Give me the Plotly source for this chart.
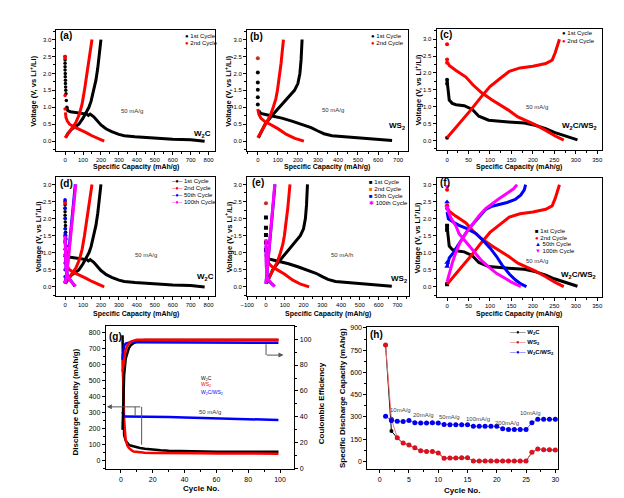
import plotly.graph_objects as go

W, H = 624, 498
FONT = "Liberation Sans, Arial, sans-serif"
BLACK, RED, BLUE, MAG = "#000000", "#ff0000", "#0000ff", "#ff00ff"

# ---------------- DATA ----------------
# W2C, 50 mA/g (panels a, d)
w2c_c1_dot_x = [0, 0, 0, 0, 0, 1, 1, 2, 2, 3, 4, 5, 7, 10]
w2c_c1_dot_y = [2.5, 2.4, 2.3, 2.2, 2.1, 2.0, 1.9, 1.8, 1.7, 1.6, 1.5, 1.4, 1.2, 1.0]
w2c_c1_dis_x = [10, 15, 30, 60, 90, 120, 130, 140, 160, 180, 200, 230, 260, 300, 330, 390, 500, 600, 700, 778]
w2c_c1_dis_y = [1.0, 0.9, 0.87, 0.85, 0.83, 0.8, 0.76, 0.8, 0.72, 0.6, 0.48, 0.36, 0.28, 0.2, 0.16, 0.13, 0.09, 0.06, 0.04, 0.0]
w2c_c1_chg_x = [5, 15, 36, 60, 77, 100, 120, 133, 145, 160, 172, 182, 190, 196, 200]
w2c_c1_chg_y = [0.12, 0.22, 0.35, 0.45, 0.5, 0.68, 0.85, 1.0, 1.18, 1.5, 1.8, 2.15, 2.5, 2.8, 3.0]
w2c_c2_dot_x = [0, 0, 0, 0]
w2c_c2_dot_y = [2.5, 2.45, 1.35, 0.95]
w2c_c2_dis_x = [2, 5, 12, 25, 50, 80, 115, 150, 185, 218]
w2c_c2_dis_y = [0.85, 0.7, 0.6, 0.5, 0.42, 0.35, 0.26, 0.16, 0.07, 0.0]
w2c_c2_chg_x = [0, 20, 40, 60, 80, 95, 108, 120, 132, 143, 150]
w2c_c2_chg_y = [0.1, 0.25, 0.38, 0.55, 0.8, 1.1, 1.5, 1.9, 2.3, 2.7, 3.0]
w2c_c50_dis_x = [0, 2, 6, 15, 35, 55]
w2c_c50_dis_y = [1.6, 1.0, 0.5, 0.3, 0.15, 0.02]
w2c_c50_chg_x = [0, 10, 20, 30, 40, 50, 57]
w2c_c50_chg_y = [0.1, 0.45, 1.0, 1.5, 2.0, 2.5, 3.0]
w2c_c100_dot_y = [2.55, 2.3, 2.0, 1.7, 1.5, 1.3, 1.1, 0.9, 0.7, 0.5, 0.3, 0.15]
w2c_c100_dot_x = [0, 0, 0, 0, 0, 0, 0, 0, 0, 0, 0, 0]
w2c_c100_dis_x = [0, 3, 5, 15, 35, 60]
w2c_c100_dis_y = [1.5, 1.0, 0.5, 0.3, 0.15, 0.02]
w2c_c100_chg_x = [0, 10, 20, 30, 40, 50, 60]
w2c_c100_chg_y = [0.1, 0.4, 0.9, 1.4, 1.9, 2.4, 3.0]

# WS2, 50 mA/g (panels b, e)
ws2_c1_dot_x = [0, 0, 0, 0, 0]
ws2_c1_dot_y = [2.03, 1.73, 1.52, 1.3, 1.08]
ws2_c1_dis_x = [5, 15, 60, 120, 170, 220, 266, 300, 330, 370, 430, 500, 600, 670]
ws2_c1_dis_y = [0.9, 0.82, 0.76, 0.68, 0.59, 0.5, 0.4, 0.3, 0.22, 0.16, 0.13, 0.1, 0.06, 0.02]
ws2_c1_chg_x = [3, 15, 36, 70, 109, 145, 183, 200, 210, 216, 221]
ws2_c1_chg_y = [0.1, 0.25, 0.5, 0.75, 1.0, 1.25, 1.5, 1.7, 2.0, 2.4, 3.0]
ws2_c2_dot_x = [0]
ws2_c2_dot_y = [2.45]
ws2_c2_dis_x = [0, 5, 15, 35, 61, 100, 143, 185, 230]
ws2_c2_dis_y = [0.95, 0.8, 0.68, 0.58, 0.5, 0.37, 0.2, 0.08, 0.0]
ws2_c2_chg_x = [0, 15, 41, 62, 77, 90, 98, 108, 116, 122, 128]
ws2_c2_chg_y = [0.1, 0.25, 0.5, 0.75, 1.0, 1.25, 1.5, 1.9, 2.3, 2.65, 3.0]
ws2_c50_dis_x = [0, 0, 3, 8, 25, 45]
ws2_c50_dis_y = [1.2, 0.9, 0.5, 0.25, 0.12, 0.02]
ws2_c50_chg_x = [0, 6, 14, 22, 31, 40, 48]
ws2_c50_chg_y = [0.1, 0.5, 1.0, 1.5, 2.0, 2.5, 3.0]
ws2_c100_dis_x = [0, 0, 2, 5, 15, 30, 47]
ws2_c100_dis_y = [1.4, 1.0, 0.6, 0.3, 0.2, 0.1, 0.01]
ws2_c100_chg_x = [0, 5, 12, 21, 30, 38, 47]
ws2_c100_chg_y = [0.1, 0.4, 0.9, 1.5, 2.0, 2.5, 3.0]

# W2C/WS2, 50 mA/g (panels c, f)
cmp_c1_dot_x = [0, 0, 0]
cmp_c1_dot_y = [1.8, 1.68, 0.08]
cmp_c1_dis_x = [0, 2, 5, 12, 21, 40, 59, 74, 97, 143, 180, 205, 230, 250, 280, 304]
cmp_c1_dis_y = [1.78, 1.5, 1.2, 1.1, 1.06, 1.03, 0.92, 0.72, 0.6, 0.55, 0.52, 0.45, 0.35, 0.24, 0.12, 0.02]
cmp_c2_dot_x = [0, 0, 0]
cmp_c2_dot_y = [2.85, 2.4, 2.3]
cmp_c2_dis_x = [2, 5, 20, 44, 60, 80, 105, 125, 143, 165, 205, 230, 251, 272]
cmp_c2_dis_y = [2.3, 2.22, 2.08, 1.88, 1.65, 1.42, 1.2, 1.05, 0.9, 0.7, 0.47, 0.3, 0.14, 0.01]
cmp_c2_chg_x = [0, 15, 35, 55, 80, 100, 125, 145, 170, 200, 230, 245, 252, 258, 262]
cmp_c2_chg_y = [0.08, 0.3, 0.6, 0.9, 1.3, 1.6, 1.85, 2.05, 2.15, 2.2, 2.28, 2.38, 2.6, 2.85, 3.0]
cmp_c50_dot_x = [0, 0, 0]
cmp_c50_dot_y = [2.49, 0.6, 0.72]
cmp_c50_dis_x = [0, 3, 15, 28, 45, 67, 85, 101, 115, 128, 145, 159, 172, 185]
cmp_c50_dis_y = [2.2, 2.0, 1.9, 1.81, 1.72, 1.57, 1.35, 1.13, 0.9, 0.65, 0.38, 0.21, 0.09, 0.01]
cmp_c50_chg_x = [0, 5, 13, 25, 36, 50, 67, 80, 90, 105, 120, 140, 159, 172, 180, 183]
cmp_c50_chg_y = [0.6, 0.85, 0.98, 1.22, 1.46, 1.7, 1.94, 2.15, 2.28, 2.37, 2.42, 2.48, 2.57, 2.7, 2.85, 3.0]
cmp_c100_dot_x = [0, 0]
cmp_c100_dot_y = [2.95, 2.35]
cmp_c100_dis_x = [0, 3, 10, 21, 28, 45, 67, 80, 97, 115, 136, 150, 166, 172]
cmp_c100_dis_y = [2.35, 2.2, 2.0, 1.78, 1.56, 1.3, 0.98, 0.78, 0.59, 0.4, 0.25, 0.14, 0.05, 0.01]
cmp_c100_chg_x = [0, 5, 12, 20, 30, 45, 60, 75, 90, 105, 120, 140, 155, 163]
cmp_c100_chg_y = [0.15, 0.4, 0.7, 1.0, 1.3, 1.6, 1.85, 2.1, 2.3, 2.45, 2.58, 2.75, 2.88, 3.0]

# Cycling at 50 mA/g (panel g)
g_cycles = [1, 2, 3, 4, 5, 6, 7, 8, 10, 12, 15, 20, 25, 30, 40, 50, 60, 70, 80, 90, 99]
g_w2c_cap = [780, 160, 125, 110, 100, 95, 92, 90, 85, 80, 75, 69, 66, 63, 60, 58, 57, 56, 56, 56, 56]
g_ws2_cap = [665, 250, 130, 95, 80, 70, 63, 58, 55, 52, 50, 49, 48, 48, 47, 47, 46, 46, 46, 45, 45]
g_cmp_cap = [305, 276, 276, 276, 276, 276, 276, 276, 276, 276, 276, 275, 274, 272, 269, 266, 263, 260, 258, 256, 254]
g_w2c_ce = [30, 72, 85, 90, 93, 95, 96, 97, 98, 99, 99.3, 99.3, 99.3, 99.3, 99.3, 99.3, 99.3, 99.3, 99.3, 99.3, 99.3]
g_ws2_ce = [75, 86, 92, 95, 97, 98, 98.5, 99, 99.5, 99.6, 99.6, 99.6, 99.6, 99.6, 99.6, 99.6, 99.6, 99.6, 99.6, 99.6, 99.6]
g_cmp_ce = [84, 95, 96.5, 97, 97.5, 97.5, 97.5, 97.5, 97.5, 97.5, 97.5, 97.5, 97.5, 97.5, 97.5, 97.5, 97.5, 97.5, 97.3, 97.2, 97.2]

# Rate capability (panel h)
h_cycles = [1, 2, 3, 4, 5, 6, 7, 8, 9, 10, 11, 12, 13, 14, 15, 16, 17, 18, 19, 20, 21, 22, 23, 24, 25, 26, 27, 28, 29, 30]
h_w2c = [785, 205, 158, 124, 112, 93, 72, 68, 68, 58, 22, 23, 24, 25, 25, 3, 3, 3, 3, 3, 3, 3, 3, 3, 3, 62, 84, 80, 80, 77]
h_ws2 = [785, 285, 160, 124, 112, 93, 72, 68, 68, 58, 22, 23, 24, 25, 25, 3, 3, 3, 3, 3, 3, 3, 3, 3, 3, 62, 84, 80, 80, 77]
h_cmp = [305, 277, 272, 270, 276, 262, 260, 260, 261, 259, 250, 248, 248, 248, 248, 238, 237, 237, 237, 237, 220, 216, 216, 216, 216, 261, 284, 285, 285, 284]
h_rates = ["10mA/g", "20mA/g", "50mA/g", "100mA/g", "200mA/g", "10mA/g"]

# Ticks
v_ticks = [0.0, 0.5, 1.0, 1.5, 2.0, 2.5, 3.0]
a_xticks = [0, 100, 200, 300, 400, 500, 600, 700, 800]
b_xticks = [0, 100, 200, 300, 400, 500, 600, 700]
c_xticks = [0, 50, 100, 150, 200, 250, 300, 350]
e_xticks = [-100, 0, 100, 200, 300, 400, 500, 600, 700]
g_xticks = [0, 20, 40, 60, 80, 100]
g_yticks = [0, 100, 200, 300, 400, 500, 600, 700, 800]
g_y2ticks = [0, 20, 40, 60, 80, 100]
h_xticks = [0, 5, 10, 15, 20, 25, 30]
h_yticks = [0, 150, 300, 450, 600, 750, 900]


def px(x):
    return x / W


def py(y):
    return 1 - y / H


traces = []


def line(ax, xs, ys, color, width=3.0, yax=None):
    traces.append(go.Scatter(x=xs, y=ys, xaxis="x" + ax, yaxis=yax or ("y" + ax), mode="lines",
                             line=dict(color=color, width=width), hoverinfo="skip", showlegend=False))


def dots(ax, xs, ys, color, size=3.5, symbol="circle"):
    traces.append(go.Scatter(x=xs, y=ys, xaxis="x" + ax, yaxis="y" + ax, mode="markers",
                             marker=dict(color=color, size=size, symbol=symbol), hoverinfo="skip",
                             showlegend=False))


# (a), (d)
for ax in ["1", "4"]:
    line(ax, w2c_c1_dis_x, w2c_c1_dis_y, BLACK)
    line(ax, w2c_c1_chg_x, w2c_c1_chg_y, BLACK)
    dots(ax, w2c_c1_dot_x, w2c_c1_dot_y, BLACK)
    line(ax, w2c_c2_dis_x, w2c_c2_dis_y, RED)
    line(ax, w2c_c2_chg_x, w2c_c2_chg_y, RED)
    dots(ax, w2c_c2_dot_x, w2c_c2_dot_y, RED)
line("4", w2c_c50_dis_x, w2c_c50_dis_y, BLUE)
line("4", w2c_c50_chg_x, w2c_c50_chg_y, BLUE)
dots("4", w2c_c100_dot_x, w2c_c100_dot_y, BLUE)
line("4", w2c_c100_dis_x, w2c_c100_dis_y, MAG)
line("4", w2c_c100_chg_x, w2c_c100_chg_y, MAG)

# (b), (e)
for ax in ["2", "5"]:
    line(ax, ws2_c1_dis_x, ws2_c1_dis_y, BLACK)
    line(ax, ws2_c1_chg_x, ws2_c1_chg_y, BLACK)
    dots(ax, ws2_c1_dot_x, ws2_c1_dot_y, BLACK, size=4, symbol="square" if ax == "5" else "circle")
    line(ax, ws2_c2_dis_x, ws2_c2_dis_y, RED)
    line(ax, ws2_c2_chg_x, ws2_c2_chg_y, RED)
    dots(ax, ws2_c2_dot_x, ws2_c2_dot_y, "#c0302a", size=4)
line("5", ws2_c50_dis_x, ws2_c50_dis_y, BLUE)
line("5", ws2_c50_chg_x, ws2_c50_chg_y, BLUE)
line("5", ws2_c100_dis_x, ws2_c100_dis_y, MAG)
line("5", ws2_c100_chg_x, ws2_c100_chg_y, MAG)

# (c), (f)
for ax in ["3", "6"]:
    line(ax, cmp_c1_dis_x, cmp_c1_dis_y, BLACK)
    dots(ax, cmp_c1_dot_x, cmp_c1_dot_y, BLACK, size=4, symbol="square" if ax == "6" else "circle")
    line(ax, cmp_c2_dis_x, cmp_c2_dis_y, RED)
    line(ax, cmp_c2_chg_x, cmp_c2_chg_y, RED)
    dots(ax, cmp_c2_dot_x, cmp_c2_dot_y, RED, size=4)
line("6", cmp_c50_dis_x, cmp_c50_dis_y, BLUE)
line("6", cmp_c50_chg_x, cmp_c50_chg_y, BLUE)
dots("6", cmp_c50_dot_x, cmp_c50_dot_y, BLUE, size=5, symbol="triangle-up")
line("6", cmp_c100_dis_x, cmp_c100_dis_y, MAG)
line("6", cmp_c100_chg_x, cmp_c100_chg_y, MAG)
dots("6", cmp_c100_dot_x, cmp_c100_dot_y, MAG, size=5, symbol="triangle-down")

# (g)
line("7", g_cycles, g_w2c_cap, BLACK, 2.5)
line("7", g_cycles, g_ws2_cap, RED, 2.5)
line("7", g_cycles, g_cmp_cap, BLUE, 2.5)
line("7", g_cycles, g_w2c_ce, BLACK, 2.5, yax="y9")
line("7", g_cycles, g_cmp_ce, BLUE, 2.5, yax="y9")
line("7", g_cycles, g_ws2_ce, RED, 2.5, yax="y9")

# (h)
traces.append(go.Scatter(x=h_cycles, y=h_w2c, xaxis="x8", yaxis="y8", mode="lines+markers",
                         line=dict(color=BLACK, width=1), marker=dict(color=BLACK, size=4),
                         hoverinfo="skip", showlegend=False))
traces.append(go.Scatter(x=h_cycles, y=h_ws2, xaxis="x8", yaxis="y8", mode="lines+markers",
                         line=dict(color="#f07070", width=1), marker=dict(color="#dd1020", size=5),
                         hoverinfo="skip", showlegend=False))
traces.append(go.Scatter(x=h_cycles, y=h_cmp, xaxis="x8", yaxis="y8", mode="lines+markers",
                         line=dict(color="#7070ff", width=1), marker=dict(color="#0000ee", size=5),
                         hoverinfo="skip", showlegend=False))

fig = go.Figure(traces)


def xax(dom, rng, ticks, anchor, minor, size=6):
    return dict(domain=[px(dom[0]), px(dom[1])], range=rng, anchor=anchor, tickmode="array",
                tickvals=ticks, showline=True, linecolor=BLACK, linewidth=1, mirror=True,
                ticks="outside", ticklen=3, tickwidth=1, tickcolor=BLACK, showgrid=False,
                zeroline=False, tickfont=dict(size=size, family=FONT, color=BLACK),
                minor=dict(ticks="outside", ticklen=2, tickcolor=BLACK, dtick=minor, tick0=0))


def yax(dom, rng, ticks, anchor, minor, fmt=None, size=6):
    d = dict(domain=[py(dom[1]), py(dom[0])], range=rng, anchor=anchor, tickmode="array",
             tickvals=ticks, showline=True, linecolor=BLACK, linewidth=1, mirror=True,
             ticks="outside", ticklen=3, tickwidth=1, tickcolor=BLACK, showgrid=False,
             zeroline=False, tickfont=dict(size=size, family=FONT, color=BLACK),
             minor=dict(ticks="outside", ticklen=2, tickcolor=BLACK, dtick=minor, tick0=0))
    if fmt:
        d["tickformat"] = fmt
    return d


dom = {
    "a": ((42, 203), (19.3, 141.7)),
    "b": ((235, 398), (19.3, 141.7)),
    "c": ((427, 595), (18.3, 141)),
    "d": ((42, 203), (168.3, 288.3)),
    "e": ((235, 399), (168.3, 288.3)),
    "f": ((427, 595), (169.3, 289)),
    "g": ((92, 283), (319, 464)),
    "h": ((357, 550), (320, 464)),
}

layout = dict(width=W, height=H, margin=dict(l=0, r=0, t=0, b=0), paper_bgcolor="white",
              plot_bgcolor="white", showlegend=False, font=dict(family=FONT, color=BLACK))
layout["xaxis"] = xax(dom["a"][0], [-48, 838], a_xticks, "y", 50)
layout["yaxis"] = yax(dom["a"][1], [-0.29, 3.28], v_ticks, "x", 0.25, ".1f")
layout["xaxis2"] = xax(dom["b"][0], [-54, 749], b_xticks, "y2", 50)
layout["yaxis2"] = yax(dom["b"][1], [-0.29, 3.28], v_ticks, "x2", 0.25, ".1f")
layout["xaxis3"] = xax(dom["c"][0], [-24.6, 362], c_xticks, "y3", 25)
layout["yaxis3"] = yax(dom["c"][1], [-0.29, 3.3], v_ticks, "x3", 0.25, ".1f")
layout["xaxis4"] = xax(dom["d"][0], [-48, 838], a_xticks, "y4", 50)
layout["yaxis4"] = yax(dom["d"][1], [-0.26, 3.21], v_ticks, "x4", 0.25, ".1f")
layout["xaxis5"] = xax(dom["e"][0], [-101, 761], e_xticks, "y5", 50)
layout["yaxis5"] = yax(dom["e"][1], [-0.26, 3.21], v_ticks, "x5", 0.25, ".1f")
layout["xaxis6"] = xax(dom["f"][0], [-24.6, 362], c_xticks, "y6", 25)
layout["yaxis6"] = yax(dom["f"][1], [-0.28, 3.19], v_ticks, "x6", 0.25, ".1f")
layout["xaxis7"] = xax(dom["g"][0], [-9.5, 109], g_xticks, "y7", 10, size=7)
layout["yaxis7"] = yax(dom["g"][1], [-53, 837], g_yticks, "x7", 50, size=7)
y9 = yax(dom["g"][1], [-0.5, 110], g_y2ticks, "x7", 10, size=7)
y9.update(overlaying="y7", side="right", mirror=False)
layout["yaxis9"] = y9
layout["xaxis8"] = xax(dom["h"][0], [-2.1, 30.45], h_xticks, "y8", 2.5, size=7)
layout["yaxis8"] = yax(dom["h"][1], [-53, 905], h_yticks, "x8", 75, size=7)

ann = []


def text(x, y, s, size=6, color=BLACK, bold=False, anchor="center", angle=0):
    ann.append(dict(x=px(x), y=py(y), xref="paper", yref="paper", text=("<b>%s</b>" % s) if bold else s,
                    showarrow=False, xanchor=anchor, yanchor="middle", textangle=angle,
                    font=dict(size=size, family=FONT, color=color)))


VT = "Voltage (V, vs Li<sup>+</sup>/Li)"
XT = "Specific Capacity (mAh/g)"
W2C = "W<sub>2</sub>C"
WS2 = "WS<sub>2</sub>"
CMP = "W<sub>2</sub>C/WS<sub>2</sub>"

# axis titles
for k, xt_y, yt_x in [("a", 157.5, 17.5), ("b", 157.5, 215), ("c", 158, 408),
                      ("d", 306.5, 23), ("e", 306.5, 215.7), ("f", 306.5, 407.3)]:
    (x0, x1), (y0, y1) = dom[k]
    text((x0 + x1) / 2, xt_y, XT, size=7, bold=True)
    text(yt_x, (y0 + y1) / 2, VT, size=7.5, bold=True, angle=-90)

text(188, 483, "Cycle No.", size=8, bold=True)
text(61, 396, "Discharge Capacity (mAh/g)", size=8, bold=True, angle=-90)
text(310, 397, "Coulombic Efficiency", size=8, bold=True, angle=-90)
text(453, 485, "Cycle No.", size=8, bold=True)
text(332, 392, "Specific Discharge Capacity (mAh/g)", size=8, bold=True, angle=-90)

# panel labels
for lab, x, y in [("(a)", 44, 25), ("(b)", 236, 26), ("(c)", 428, 24), ("(d)", 44, 175),
                  ("(e)", 238, 174), ("(f)", 428, 174), ("(g)", 93, 329), ("(h)", 358, 327.3)]:
    text(x, y, lab, size=10, bold=True, anchor="left")

# current density labels
for x, y, s in [(119, 101.7, "50 mA/g"), (322.5, 100.7, "50 mA/g"), (529, 96.7, "50 mA/g"),
                (133, 246.7, "50 mA/g"), (331, 247.3, "50 mA/h"), (529, 253.3, "50 mA/g"),
                (198, 406, "50 mA/g")]:
    text(x, y, s, size=6, color="#333333")

# material labels
for x, y, s in [(190, 124, W2C), (387, 116.7, WS2), (571.7, 116.7, CMP),
                (193, 269.3, W2C), (389, 271.7, WS2), (571, 267.3, CMP)]:
    text(x, y, s, size=8, bold=True)


# legends (drawn as text)
def leg(x, y, sym, color, label, size=6):
    ann.append(dict(x=px(x), y=py(y), xref="paper", yref="paper", showarrow=False, xanchor="left",
                    yanchor="middle", font=dict(size=size, family=FONT, color=BLACK),
                    text="<span style='color:%s'>%s</span> %s" % (color, sym, label)))


leg(170, 25, "●", BLACK, "1st Cycle")
leg(170, 32, "●", RED, "2nd Cycle")
leg(359, 25, "●", BLACK, "1st Cycle")
leg(359, 32.7, "●", RED, "2nd Cycle")
leg(552, 22.7, "●", BLACK, "1st Cycle")
leg(552, 30, "●", RED, "2nd Cycle")
for lbl, col, y in [("1st Cycle", BLACK, 171.7), ("2nd Cycle", RED, 179), ("50th Cycle", BLUE, 186),
                    ("100th Cycle", MAG, 193.3)]:
    leg(157, y, "–●–", col, lbl)
for lbl, col, sym, y in [("1st Cycle", BLACK, "■", 173.3), ("2nd Cycle", "#ee7700", "■", 180),
                         ("50th Cycle", BLUE, "■", 187.3), ("100th Cycle", MAG, "✱", 194.3)]:
    leg(357, y, sym, col, lbl)
for lbl, col, sym, y in [("1st Cycle", BLACK, "■", 222.3), ("2nd Cycle", RED, "●", 229.3),
                         ("50th Cycle", BLUE, "▲", 236.3), ("100th Cycle", MAG, "▼", 243.3)]:
    leg(525, y, sym, col, lbl)
for lbl, col, y in [(W2C, BLACK, 325), (WS2, "#dd1020", 335.3), (CMP, BLUE, 346)]:
    leg(499, y, "—●—", col, "<b>%s</b>" % lbl)

# (g) inline legend
text(186, 372, "W<sub>2</sub>C", size=5, color=BLACK, anchor="left")
text(186, 378.5, "WS<sub>2</sub>", size=5, color=RED, anchor="left")
text(186, 386, "W<sub>2</sub>C/WS<sub>2</sub>", size=5, color=BLUE, anchor="left")

# (h) rate labels
for (x, y), s in zip([(391, 403.7), (414, 408.7), (440, 411), (469, 413), (498, 416.7), (522, 406.7)],
                     h_rates):
    text(x, y, s, size=6, color="#444444")

# (g) arrows
ARC = "#555555"
ann.append(dict(x=px(93), y=py(400.7), xref="paper", yref="paper", text="", showarrow=True,
                ax=35, ay=0, arrowhead=2, arrowsize=1, arrowwidth=1, arrowcolor=ARC))
ann.append(dict(x=px(272), y=py(348.3), xref="paper", yref="paper", text="", showarrow=True,
                ax=-18, ay=0, arrowhead=2, arrowsize=1, arrowwidth=1, arrowcolor=ARC))
shapes = [
    dict(type="line", xref="paper", yref="paper", x0=px(121.7), x1=px(121.7), y0=py(400.7), y1=py(409.3),
         line=dict(color=ARC, width=1)),
    dict(type="line", xref="paper", yref="paper", x0=px(128.3), x1=px(128.3), y0=py(400.7), y1=py(439),
         line=dict(color=ARC, width=1)),
    dict(type="line", xref="paper", yref="paper", x0=px(254.3), x1=px(254.3), y0=py(337.3), y1=py(348.3),
         line=dict(color=ARC, width=1)),
]

layout["annotations"] = ann
layout["shapes"] = shapes
fig.update_layout(**layout)
fig.write_html("out.html")
